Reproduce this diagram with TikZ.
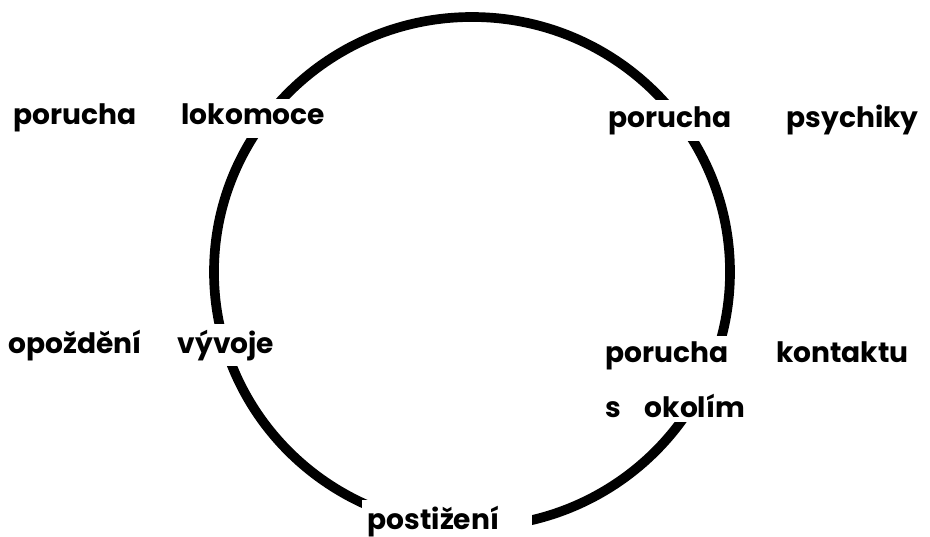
\documentclass[tikz,border=0pt]{standalone}
\usepackage{fontspec}
\setmainfont{Poppins}
\begin{document}
\begin{tikzpicture}[x=0.02cm,y=-0.02cm,
    popis/.style={fill=white,inner sep=3pt,anchor=base west,
      font=\bfseries\fontsize{16}{19}\selectfont}]
        \useasboundingbox (0,0) rectangle (930,537);
        \draw[line width=5.5pt] (472,272) ellipse (258 and 255);
        \node[popis] (lok) at (8,125) {porucha\hspace{0.9cm}lokomoce};
        \node[popis] (psych) at (603,128) {porucha\hspace{1.1cm}psychiky};
        \node[popis] (vyv) at (3,353) {opoždění\hspace{0.72cm}vývoje};
        \node[popis,align=left] (kont) at (600,417) {porucha\hspace{0.95cm}kontaktu\\[0.43cm]s\hspace{0.47cm}okolím};
        \node[popis] (post) at (362,529) {postižení\kern0.55cm};
    \end{tikzpicture}
\end{document}
